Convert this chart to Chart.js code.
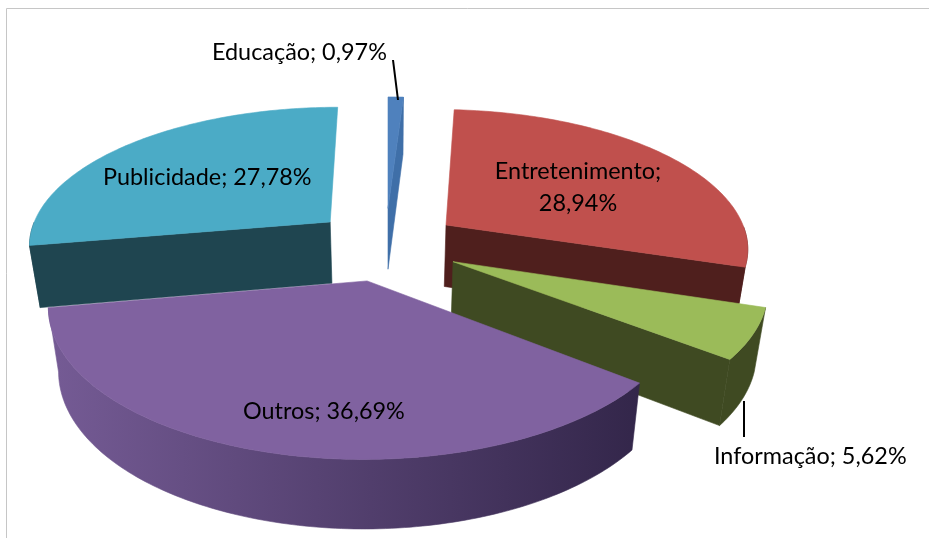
<!DOCTYPE html>
<html><head><meta charset="utf-8">
<style>html,body{margin:0;padding:0;background:#fff}canvas{display:block}</style>
<script src="https://cdn.jsdelivr.net/npm/chart.js@4"></script>
</head><body>
<canvas id="c" width="929" height="538"></canvas>
<script>
const categories = ['Educação','Entretenimento','Informação','Outros','Publicidade'];
const percentLabels = ['0,97%','28,94%','5,62%','36,69%','27,78%'];
const values = [0.97,28.94,5.62,36.69,27.78];

const topColors = ['#4f81bd','#c0504d','#9bbb59','#8062a0','#4babc6'];
const wallLeft  = ['#3f6fa8','#4f1f1d','#3f4a22','#755b95','#1f4550'];
const wallRight = ['#3f6fa8','#4f1f1d','#3f4a22','#33264a','#1f4550'];
const explodeX = [0,59,63.5,-20,-59];
const explodeY = [-73,-34,47,87,-41];
const radiusScaleX = [0.99,0.99,0.99,0.985,0.99];
const drawOrder = [0,4,1,2,3];
const tilt = 0.45, persp = 0.0005, depth = 62, bottomScale = 0.97;

const labelAnchors = [[212,52],[578,171],[714,456],[243,411],[103,177]];

function pt(el,i,a,lower){
  const X = explodeX[i] + el.outerRadius*radiusScaleX[i]*Math.cos(a);
  const Y = explodeY[i] + el.outerRadius*Math.sin(a);
  return tip(el,X,Y,lower);
}
function tip(el,X,Y,lower){
  const s = 1/(1-persp*Y);
  const y = el.y + tilt*Y*s;
  if(!lower) return [el.x + X*s, y];
  return [el.x + X*s*bottomScale, y + depth*(1+(s-1)*0.5)];
}
function poly(ctx,pts,fill){
  ctx.beginPath();
  pts.forEach((p,k)=> k?ctx.lineTo(p[0],p[1]):ctx.moveTo(p[0],p[1]));
  ctx.closePath();
  ctx.fillStyle = fill; ctx.strokeStyle = fill; ctx.lineWidth = 0.6;
  ctx.fill(); ctx.stroke();
}
function drawSlice(ctx,el,i){
  const a0 = el.startAngle, a1 = el.endAngle;
  const n = Math.max(4, Math.ceil((a1-a0)/(Math.PI/180)));
  const upper=[], lower=[], fu=[], fl=[];
  for(let k=0;k<=n;k++){
    const a = a0+(a1-a0)*k/n;
    const u = pt(el,i,a,false), l = pt(el,i,a,true);
    upper.push(u); lower.push(l);
    if(Math.sin(a)>=-0.001){ fu.push(u); fl.push(l); }
  }
  const tU = tip(el,explodeX[i],explodeY[i],false), tL = tip(el,explodeX[i],explodeY[i],true);
  // radial faces only when they turn towards the viewer
  if(-Math.cos(a0)>0.01) poly(ctx,[tU,upper[0],lower[0],tL],wallLeft[i]);
  if(Math.cos(a1)>0.01) poly(ctx,[tU,upper[n],lower[n],tL],wallRight[i]);
  if(fu.length>1){
    const xs = fu.concat(fl).map(p=>p[0]);
    const g = ctx.createLinearGradient(Math.min(...xs),0,Math.max(...xs),0);
    g.addColorStop(0,wallLeft[i]); g.addColorStop(1,wallRight[i]);
    poly(ctx,fu.concat(fl.slice().reverse()),g);
  }
  poly(ctx,[tU].concat(upper),topColors[i]);
}
const pie3d = {
  id:'pie3d',
  beforeDatasetDraw(chart,args){
    const ctx = chart.ctx, els = chart.getDatasetMeta(args.index).data;
    ctx.save();
    drawOrder.forEach(i=>drawSlice(ctx,els[i],i));
    ctx.restore();
    return false;
  },
  afterDatasetsDraw(chart){
    const ctx = chart.ctx;
    ctx.save();
    ctx.strokeStyle='#000'; ctx.lineWidth=2;
    [[393,60,398,100],[744,401,744,437]].forEach(l=>{
      ctx.beginPath();ctx.moveTo(l[0],l[1]);ctx.lineTo(l[2],l[3]);ctx.stroke();
    });
    ctx.fillStyle='#000';
    ctx.font='23.4px Lato';
    ctx.textBaseline='middle';
    categories.forEach((c,i)=>{
      const [x,y]=labelAnchors[i];
      if(i===1){
        ctx.textAlign='center';
        ctx.fillText(c+';',x,y);
        ctx.fillText(percentLabels[i],x,y+32);
      }else{
        ctx.textAlign='left';
        ctx.fillText(c+'; '+percentLabels[i],x,y);
      }
    });
    ctx.restore();
  },
  beforeDraw(chart){
    const ctx = chart.ctx;
    ctx.save();
    ctx.strokeStyle='#c6c6c6'; ctx.lineWidth=1;
    ctx.beginPath();ctx.moveTo(6.5,538);ctx.lineTo(6.5,8.5);ctx.lineTo(929,8.5);ctx.stroke();
    ctx.restore();
  }
};
new Chart(document.getElementById('c'),{
  type:'pie',
  data:{labels:categories,datasets:[{data:values,backgroundColor:topColors,borderWidth:0}]},
  options:{
    responsive:false,animation:false,radius:305,
    layout:{padding:{left:0,top:0,right:153,bottom:58}},
    plugins:{legend:{display:false},tooltip:{enabled:false}},
    events:[]
  },
  plugins:[pie3d]
});
</script>
</body></html>
